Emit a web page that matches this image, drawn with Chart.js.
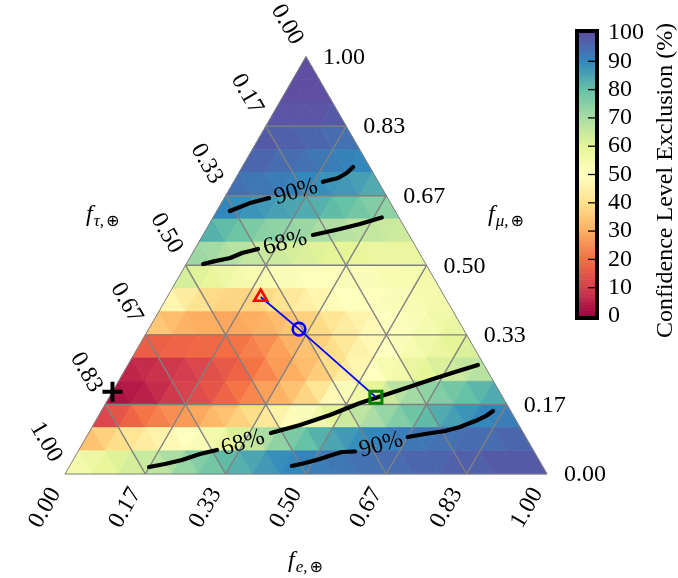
<!DOCTYPE html>
<html><head><meta charset="utf-8">
<script src="https://cdn.jsdelivr.net/npm/chart.js@4"></script>
<style>
html,body{margin:0;padding:0;background:#fff;}
#wrap{position:relative;width:678px;height:578px;overflow:hidden;}
#main{position:absolute;left:0;top:0;}
#cbar{position:absolute;left:560px;top:0;}
</style></head><body>
<div id="wrap"><canvas id="main" width="678" height="578"></canvas><canvas id="cbar" width="118" height="578"></canvas></div>
<script>
// ---------- DATA ----------
// confidence-level exclusion (%) per mesh cell, rows from top vertex (f_mu=1) to bottom edge
const clRow00 = [100];
const clRow01 = [100,100,100];
const clRow02 = [99,99,99,99,98];
const clRow03 = [98,97,97,96,96,95,94];
const clRow04 = [96,96,95,95,94,93,92,91,90];
const clRow05 = [94,93,93,92,91,90,89,88,87,86,84];
const clRow06 = [90,89,88,87,86,85,84,83,81,80,78,76,74];
const clRow07 = [83,81,79,77,75,74,73,72,70,69,68,67,66,65,64];
const clRow08 = [72,71,69,68,66,65,64,63,62,61,60,60,59,58,58,58,58];
const clRow09 = [63,61,59,57,55,54,53,52,52,51,51,51,52,52,52,53,53,54,55];
const clRow10 = [47,44,41,39,38,38,38,39,41,43,45,47,49,50,51,51,52,52,53,54,55];
const clRow11 = [35,33,31,30,30,29,29,30,31,33,35,37,39,42,44,46,48,50,51,52,54,56,58];
const clRow12 = [17,17,18,18,19,19,20,21,23,25,28,31,34,37,40,43,46,48,50,52,54,56,58,60,62];
const clRow13 = [6,7,8,9,10,12,14,16,18,21,24,27,30,33,36,40,44,47,50,53,55,58,60,62,64,66,68];
const clRow14 = [3,4,5,7,9,11,13,15,18,21,24,28,31,34,38,42,48,52,56,60,64,68,71,74,76,78,80,82,84];
const clRow15 = [12,15,18,21,23,25,27,29,32,34,37,40,43,46,49,52,56,60,64,67,70,73,76,79,81,84,86,88,90,91,92];
const clRow16 = [34,37,40,42,44,46,48,50,52,55,58,62,66,70,74,77,80,83,85,87,89,90,91,92,93,93,94,94,95,95,95,96,96];
const clRow17 = [55,57,59,61,63,65,67,70,73,76,78,81,83,85,87,89,90,91,92,93,93,94,94,95,95,96,96,96,97,97,97,98,98,98,98];
const clRows = [clRow00,clRow01,clRow02,clRow03,clRow04,clRow05,clRow06,clRow07,clRow08,
                clRow09,clRow10,clRow11,clRow12,clRow13,clRow14,clRow15,clRow16,clRow17];

// ternary tick values and labels
const tickValues = [0, 1/6, 2/6, 3/6, 4/6, 5/6, 1];
const tickLabels = ['0.00','0.17','0.33','0.50','0.67','0.83','1.00'];
const gridValues = [1/6, 2/6, 3/6, 4/6, 5/6];

// colorbar ticks
const cbTickValues = [0,10,20,30,40,50,60,70,80,90,100];
const cbTickLabels = ['0','10','20','30','40','50','60','70','80','90','100'];

// markers as [f_e, f_mu]
const muonDamped   = [0.194, 0.424];
const pionDecay    = [0.312, 0.347];
const neutronDecay = [0.553, 0.184];
const bestFit      = [0.000, 0.197];

// contour segments as [f_e, f_mu]
const upper90a = [[0.027,0.630],[0.059,0.649],[0.093,0.661]];
const upper90b = [[0.185,0.700],[0.212,0.709],[0.224,0.721],[0.230,0.7355]];
const upper68a = [[0.035,0.503],[0.056,0.510],[0.084,0.5175],[0.1025,0.5295],[0.131,0.539]];
const upper68b = [[0.228,0.5726],[0.277,0.587],[0.3125,0.599],[0.350,0.6145]];
const lower68a = [[0.166,0.0168],[0.1955,0.024],[0.226,0.0335],[0.256,0.0479],[0.2866,0.0575]];
const lower68b = [[0.378,0.0982],[0.429,0.1174],[0.479,0.1414],[0.527,0.170],[0.5944,0.2012],[0.6447,0.2252],[0.687,0.2444],[0.726,0.2611]];
const lower90a = [[0.461,0.0192],[0.485,0.0264],[0.511,0.0359],[0.531,0.0455],[0.548,0.0527],[0.575,0.0539]];
const lower90b = [[0.667,0.0886],[0.699,0.0958],[0.737,0.103],[0.763,0.1126],[0.779,0.1222],[0.792,0.1294],[0.804,0.139],[0.8125,0.151]];
const contourLabelText = ['90%','68%','68%','90%'];
const contourLabelAt = [[0.1415,0.6756],[0.180,0.5534],[0.332,0.0743],[0.621,0.0695]];
const contourLabelAngle = [-16.5,-14.3,-17.5,-15.3];

// ---------- helpers ----------
const S3 = Math.sqrt(3)/2;
function tern(fe, fmu){ return {x: fe + fmu/2, y: fmu*S3}; }
const spectral = ['#9e0142','#d53e4f','#f46d43','#fdae61','#fee08b','#ffffbf','#e6f598','#abdda4','#66c2a5','#3288bd','#5e4fa2'];
const spRGB = spectral.map(h=>[parseInt(h.substr(1,2),16),parseInt(h.substr(3,2),16),parseInt(h.substr(5,2),16)]);
function cmap(v){
  let t = Math.max(0, Math.min(100, v))/10;
  let i = Math.min(9, Math.floor(t)); let f = t - i;
  const a = spRGB[i], b = spRGB[i+1];
  return 'rgb(' + [0,1,2].map(c=>Math.round(a[c]+(b[c]-a[c])*f)).join(',') + ')';
}
const FONT = '"Liberation Serif", "DejaVu Serif", serif';
const FS = 24;

// ---------- plugin for ternary ----------
const ternPlugin = {
  id: 'tern',
  beforeDatasetsDraw(chart){
    const ctx = chart.ctx, sx = chart.scales.x, sy = chart.scales.y;
    const P = (fe, fmu) => { const t = tern(fe, fmu); return [sx.getPixelForValue(t.x), sy.getPixelForValue(t.y)]; };
    const N = clRows.length;
    ctx.save();
    for (let k = 0; k < N; k++) {
      const m = N - 1 - k, row = clRows[k];
      for (let j = 0; j < row.length; j++) {
        let v;
        if (j % 2 === 0) { const a = j/2; v = [[a,m],[a+1,m],[a,m+1]]; }
        else { const a = (j-1)/2; v = [[a,m+1],[a+1,m+1],[a+1,m]]; }
        const pts = v.map(q => P(q[0]/N, q[1]/N));
        ctx.beginPath();
        ctx.moveTo(pts[0][0], pts[0][1]); ctx.lineTo(pts[1][0], pts[1][1]); ctx.lineTo(pts[2][0], pts[2][1]);
        ctx.closePath();
        const c = cmap(row[j]);
        ctx.fillStyle = c; ctx.strokeStyle = c; ctx.lineWidth = 0.7;
        ctx.fill(); ctx.stroke();
      }
    }
    // grid lines
    ctx.strokeStyle = '#808080'; ctx.lineWidth = 1.4;
    const seg = (a, b) => { const p = P(a[0],a[1]), q = P(b[0],b[1]); ctx.beginPath(); ctx.moveTo(p[0],p[1]); ctx.lineTo(q[0],q[1]); ctx.stroke(); };
    gridValues.forEach(t => {
      seg([t,0],[t,1-t]);
      seg([0,t],[1-t,t]);
      seg([1-t,0],[0,1-t]);
    });
    ctx.lineWidth = 1;
    seg([0,0],[1,0]); seg([1,0],[0,1]); seg([0,1],[0,0]);
    ctx.restore();
  },
  afterDatasetsDraw(chart){
    const ctx = chart.ctx, sx = chart.scales.x, sy = chart.scales.y;
    const P = (fe, fmu) => { const t = tern(fe, fmu); return [sx.getPixelForValue(t.x), sy.getPixelForValue(t.y)]; };
    ctx.save();
    ctx.fillStyle = '#000';
    ctx.font = FS + 'px ' + FONT;
    ctx.textAlign = 'center'; ctx.textBaseline = 'middle';
    // contour labels
    contourLabelText.forEach((txt, i) => {
      const p = P(contourLabelAt[i][0], contourLabelAt[i][1]);
      ctx.save(); ctx.translate(p[0], p[1]); ctx.rotate(contourLabelAngle[i]*Math.PI/180);
      ctx.fillText(txt, 0, 0); ctx.restore();
    });
    // bottom axis (f_e)
    tickValues.forEach((t, i) => {
      const p = P(t, 0);
      ctx.save(); ctx.translate(p[0] - 20, p[1] + 34); ctx.rotate(-Math.PI/3);
      ctx.fillText(tickLabels[i], 0, 0); ctx.restore();
    });
    // left axis (f_tau): value t at f_mu = 1-t on left edge
    tickValues.forEach((t, i) => {
      const p = P(0, 1 - t);
      ctx.save(); ctx.translate(p[0] - 19, p[1] - 32); ctx.rotate(Math.PI/3);
      ctx.fillText(tickLabels[i], 0, 0); ctx.restore();
    });
    // right axis (f_mu)
    ctx.textAlign = 'left';
    tickValues.forEach((t, i) => {
      const p = P(1 - t, t);
      ctx.fillText(tickLabels[i], p[0] + 17, p[1] + 1);
    });
    // axis titles
    const title = (x, y, sub) => {
      ctx.textAlign = 'left'; ctx.textBaseline = 'alphabetic';
      ctx.font = 'italic ' + FS + 'px ' + FONT;
      ctx.fillText('f', x, y);
      const w = ctx.measureText('f').width;
      ctx.font = 'italic 17px ' + FONT;
      ctx.fillText(sub[0], x + w + 1, y + 5);
      const w2 = ctx.measureText(sub[0]).width;
      ctx.font = '17px ' + FONT;
      ctx.fillText(',', x + w + 1 + w2, y + 5);
      const w3 = ctx.measureText(',').width;
      ctx.font = '16px "DejaVu Sans", sans-serif';
      ctx.fillText('\u2295', x + w + 3 + w2 + w3, y + 5);
    };
    title(288, 567, 'e');
    title(488, 221, '\u03bc');
    title(86, 221, '\u03c4');
    ctx.restore();
  }
};

const xyOf = arr => arr.map(q => tern(q[0], q[1]));
const contourSets = [upper90a, upper90b, upper68a, upper68b, lower68a, lower68b, lower90a, lower90b].map(s => ({
  type: 'scatter', data: xyOf(s), showLine: true, borderColor: '#000', borderWidth: 4.2,
  pointRadius: 0, borderCapStyle: 'round', borderJoinStyle: 'round', order: 3, tension: 0
}));

new Chart(document.getElementById('main'), {
  type: 'scatter',
  data: { datasets: [
    { data: [tern(bestFit[0], bestFit[1])], pointStyle: 'cross', pointRadius: 10, borderWidth: 4, borderColor: '#000', order: 0 },
    { data: [tern(muonDamped[0], muonDamped[1])], pointStyle: 'triangle', pointRadius: 7.5, borderWidth: 2.6, borderColor: '#ff0000', backgroundColor: 'rgba(0,0,0,0)', order: 0 },
    { data: [tern(pionDecay[0], pionDecay[1])], pointStyle: 'circle', pointRadius: 6.3, borderWidth: 2.6, borderColor: '#0000ff', backgroundColor: 'rgba(0,0,0,0)', order: 0 },
    { data: [tern(neutronDecay[0], neutronDecay[1])], pointStyle: 'rect', pointRadius: 8.5, borderWidth: 3, borderColor: '#008000', backgroundColor: 'rgba(0,0,0,0)', order: 0 },
    { data: xyOf([muonDamped, pionDecay, neutronDecay]), showLine: true, borderColor: '#0000ff', borderWidth: 1.8, pointRadius: 0, order: 1 },
    ...contourSets
  ]},
  options: {
    responsive: false, animation: false, events: [],
    layout: { padding: 0, autoPadding: false },
    plugins: { legend: { display: false }, tooltip: { enabled: false } },
    scales: {
      x: { type: 'linear', display: false, min: -65/482, max: 613/482 },
      y: { type: 'linear', display: false, min: -104/482, max: 474/482 }
    }
  },
  plugins: [ternPlugin]
});

// ---------- colorbar chart ----------
const cbPlugin = {
  id: 'cb',
  beforeDatasetsDraw(chart){
    const ctx = chart.ctx, sy = chart.scales.y, a = chart.chartArea;
    ctx.save();
    for (let v = 0; v < 100; v++) {
      const y1 = sy.getPixelForValue(v + 1), y0 = sy.getPixelForValue(v);
      ctx.fillStyle = cmap(v + 0.5);
      ctx.fillRect(a.left, y1, a.right - a.left, y0 - y1 + 0.6);
    }
    ctx.strokeStyle = '#000'; ctx.lineWidth = 1.3;
    cbTickValues.forEach(v => {
      if (v === 0 || v === 100) return;
      const y = sy.getPixelForValue(v);
      ctx.beginPath(); ctx.moveTo(a.right - 7, y); ctx.lineTo(a.right, y); ctx.stroke();
    });
    ctx.lineWidth = 4;
    ctx.strokeRect(a.left - 2, a.top - 2, a.right - a.left + 4, a.bottom - a.top + 4);
    // title
    ctx.fillStyle = '#000';
    ctx.font = FS + 'px ' + FONT;
    ctx.textAlign = 'center'; ctx.textBaseline = 'middle';
    ctx.translate(106, (a.top + a.bottom)/2 + 6);
    ctx.rotate(-Math.PI/2);
    ctx.fillText('Confidence Level Exclusion (%)', 0, 0);
    ctx.restore();
  }
};

new Chart(document.getElementById('cbar'), {
  type: 'scatter',
  data: { datasets: [{ data: [] }] },
  options: {
    responsive: false, animation: false, events: [],
    layout: { padding: { left: 19, top: 33, bottom: 262, right: 23 }, autoPadding: false },
    plugins: { legend: { display: false }, tooltip: { enabled: false } },
    scales: {
      x: { display: false, min: 0, max: 1 },
      y: {
        position: 'right', min: 0, max: 100,
        afterBuildTicks: s => { s.ticks = cbTickValues.map(v => ({ value: v })); },
        afterFit: s => { s.width = 60; },
        ticks: { padding: 13, color: '#000', autoSkip: false, font: { family: FONT, size: FS },
                 callback: (v) => cbTickLabels[cbTickValues.indexOf(v)] },
        grid: { display: false, drawTicks: false },
        border: { display: false }
      }
    }
  },
  plugins: [cbPlugin]
});
</script>
</body></html>
